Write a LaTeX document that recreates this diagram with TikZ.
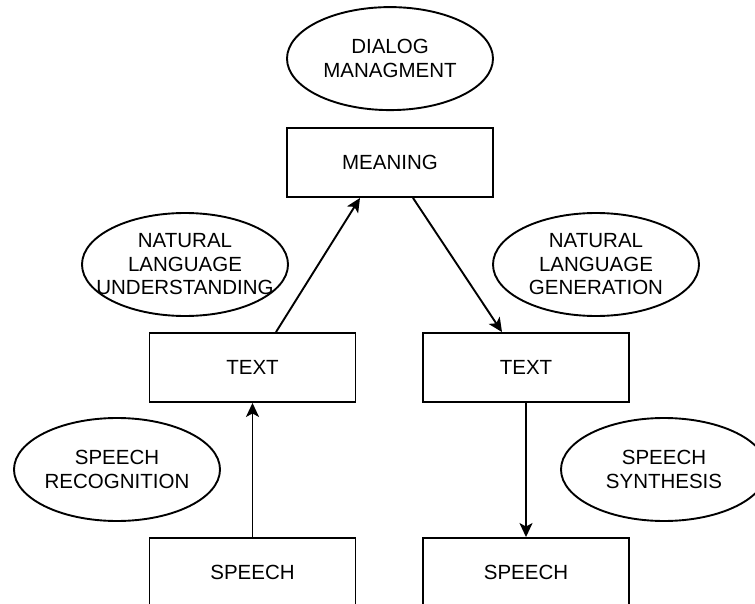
\documentclass[tikz,border=0pt]{standalone}
\usepackage{fontspec}
\setmainfont{Liberation Sans}
\usetikzlibrary{arrows.meta, positioning, shapes.geometric, calc}

\begin{document}
\begin{tikzpicture}[
  x=1pt, y=-1pt,
  stage/.style={rectangle, draw, line width=1.9pt, minimum width=206pt,
    minimum height=69pt, inner sep=0pt, font=\fontsize{20.5}{23.5}\selectfont},
  task/.style={ellipse, draw, line width=1.9pt, minimum width=206pt,
    minimum height=103pt, inner sep=0pt,
    label={[align=center, font=\fontsize{20.5}{23.5}\selectfont]center:#1}},
  flow/.style={line width=1.9pt, -{Stealth[length=14pt, width=13pt, inset=3.5pt]}},
]
  \useasboundingbox (0,0) rectangle (755,604);

  % stages
  \node[stage] (meaning) at (390,162.5) {MEANING};
  \node[stage] (textL) at (252.5,367.5) {TEXT};
  \node[stage] (textR) at (526,367.5) {TEXT};
  \node[stage] (speechL) at (252.5,572.5) {SPEECH};
  \node[stage] (speechR) at (526,572.5) {SPEECH};

  % tasks (text kept out of the ellipse size)
  \node[task={DIALOG\\MANAGMENT}, above=16pt of meaning] (dialog) {};
  \node[task={NATURAL\\LANGUAGE\\UNDERSTANDING}] (nlu) at (185,264.5) {};
  \node[task={NATURAL\\LANGUAGE\\GENERATION}] (nlg) at (596,264.5) {};
  \node[task={SPEECH\\RECOGNITION}] (recog) at (117,469.5) {};
  \node[task={SPEECH\\SYNTHESIS}] (synth) at (664,469.5) {};

  \draw[flow] (speechL.north) -- (textL.south);
  \draw[flow] ($(textL.north)+(23.5,0)$) -- ($(meaning.south)+(-30,0)$);
  \draw[flow] ($(meaning.south)+(23,0)$) -- ($(textR.north)+(-24,0)$);
  \draw[flow] (textR.south) -- (speechR.north);
\end{tikzpicture}
\end{document}
